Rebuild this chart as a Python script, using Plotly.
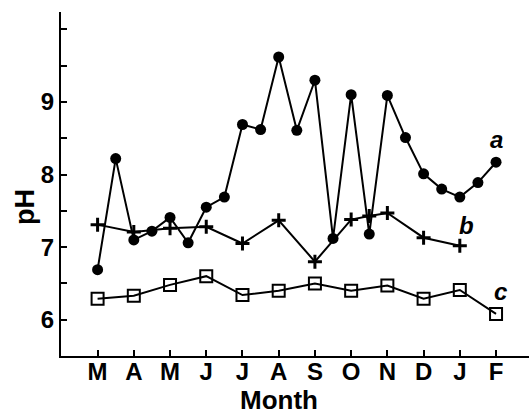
import plotly.graph_objects as go

months = ["M", "A", "M", "J", "J", "A", "S", "O", "N", "D", "J", "F"]

# Series a: semi-monthly samples (x in month-index units)
a_x = [0, 0.5, 1, 1.5, 2, 2.5, 3, 3.5, 4, 4.5, 5, 5.5, 6, 6.5, 7, 7.5, 8, 8.5, 9, 9.5, 10, 10.5, 11]
a_y = [6.69, 8.22, 7.10, 7.22, 7.41, 7.06, 7.55, 7.69, 8.69, 8.62, 9.62, 8.61, 9.30, 7.12,
       9.10, 7.18, 9.09, 8.51, 8.01, 7.80, 7.69, 7.89, 8.17]

# Series b
b_x = [0, 1, 2, 3, 4, 5, 6, 7, 7.5, 8, 9, 10]
b_y = [7.31, 7.21, 7.26, 7.28, 7.05, 7.37, 6.80, 7.38, 7.43, 7.47, 7.13, 7.02]

# Series c
c_x = [0, 1, 2, 3, 4, 5, 6, 7, 8, 9, 10, 11]
c_y = [6.29, 6.33, 6.48, 6.60, 6.34, 6.40, 6.50, 6.40, 6.47, 6.29, 6.41, 6.08]

y_tickvals = [6, 6.5, 7, 7.5, 8, 8.5, 9, 9.5, 10]
y_ticktext = ["6", "", "7", "", "8", "", "9", "", ""]

FONT = "Liberation Sans"

fig = go.Figure()
fig.add_trace(go.Scatter(x=c_x, y=c_y, mode="lines+markers",
                         line=dict(color="black", width=2),
                         marker=dict(symbol="square-open", size=12, color="black",
                                     line=dict(width=2, color="black"))))
fig.add_trace(go.Scatter(x=b_x, y=b_y, mode="lines+markers",
                         line=dict(color="black", width=2),
                         marker=dict(symbol="cross-thin-open", size=10, color="black",
                                     line=dict(width=3, color="black"))))
fig.add_trace(go.Scatter(x=a_x, y=a_y, mode="lines+markers",
                         line=dict(color="black", width=2),
                         marker=dict(symbol="circle", size=11, color="black")))

for txt, x, y in [("a", 11.02, 8.48), ("b", 10.19, 7.30), ("c", 11.11, 6.39)]:
    fig.add_annotation(x=x, y=y, text=f"<i><b>{txt}</b></i>", showarrow=False,
                       font=dict(family=FONT, size=24, color="black"))

fig.add_annotation(x=0.466, y=-0.128, xref="paper", yref="paper", text="<b>Month</b>",
                   showarrow=False, xanchor="center", yanchor="middle",
                   font=dict(family=FONT, size=26, color="black"))
fig.add_annotation(x=-0.077, y=0.433, xref="paper", yref="paper", text="<b>pH</b>",
                   showarrow=False, xanchor="center", yanchor="middle", textangle=-90,
                   font=dict(family=FONT, size=27, color="black"))

fig.update_layout(
    width=529, height=416,
    margin=dict(l=61, r=0, t=12, b=60),
    plot_bgcolor="white", paper_bgcolor="white",
    showlegend=False,
    font=dict(family=FONT, color="black"),
)
fig.update_xaxes(
    range=[-1.01, 11.91], tickmode="array", tickvals=list(range(len(months))), ticktext=months,
    showgrid=False, zeroline=False, showline=True, linecolor="black", linewidth=2,
    ticks="inside", ticklen=6, tickwidth=2, tickcolor="black", automargin=False,
    ticklabelstandoff=-7,
    tickfont=dict(family=FONT, size=24, color="black", weight="bold"),
)
fig.update_yaxes(
    range=[5.5, 10.24], tickmode="array", tickvals=y_tickvals, ticktext=y_ticktext,
    showgrid=False, zeroline=False, showline=True, linecolor="black", linewidth=2,
    ticks="inside", ticklen=6, tickwidth=2, tickcolor="black", automargin=False,
    tickfont=dict(family=FONT, size=24, color="black", weight="bold"),
)

fig.write_html("out.html", config={"displayModeBar": False},
               post_script="document.body.style.margin='0';document.body.style.overflow='hidden';")
